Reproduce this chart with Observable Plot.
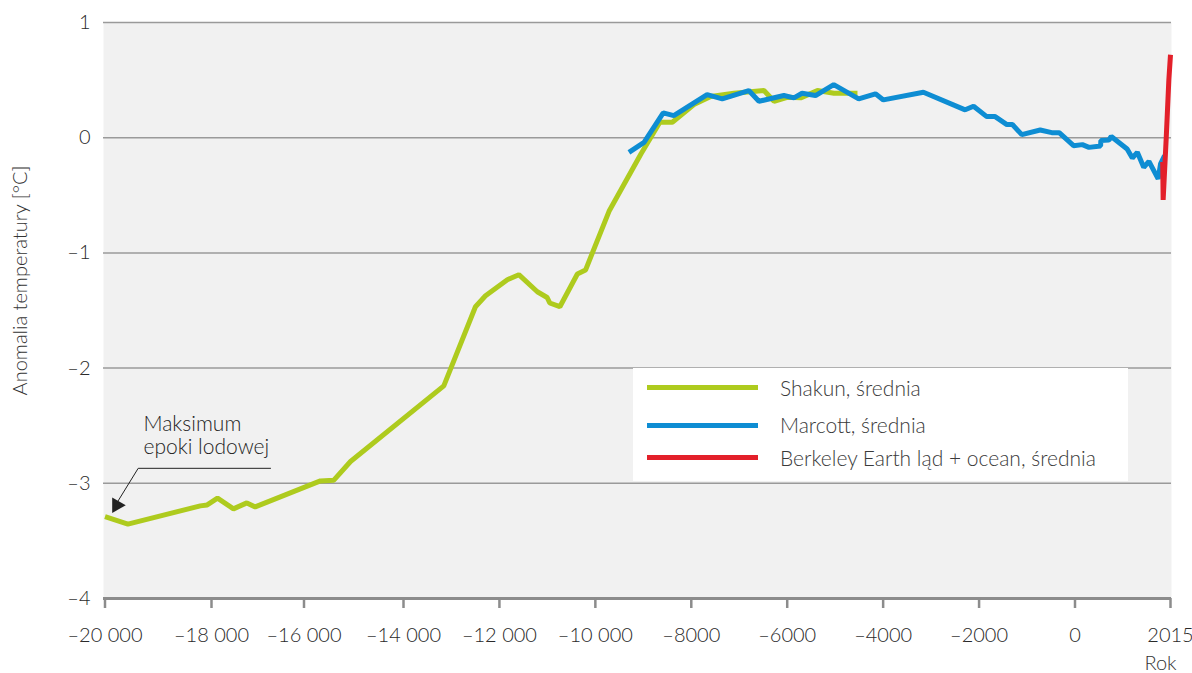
<!DOCTYPE html>
<html><head><meta charset="utf-8">
<script src="https://cdn.jsdelivr.net/npm/d3@7"></script>
<script src="https://cdn.jsdelivr.net/npm/@observablehq/plot@0.6"></script>
<style>
body{margin:0;background:#fff;font-family:Lato,sans-serif;}
#wrap{position:relative;width:1192px;height:673px;}
#legend{position:absolute;left:633px;top:368px;width:495px;height:113px;background:#fff;}
.row{position:absolute;left:0;height:0;width:100%;}
.sw{position:absolute;left:14px;width:111px;height:5px;top:-2.5px;}
.lab{position:absolute;left:147px;top:0;white-space:nowrap;font-size:21px;font-weight:300;color:#3a3a3a;transform:translateY(-52%);}
</style></head><body><div id="wrap"></div>
<script>
// Shakun, średnia
const shakunYears = [-20000,-19570,-18210,-18080,-17870,-17525,-17235,-17055,-15670,-15400,-15065,-13160,-12500,-12290,-11835,-11595,-11210,-11005,-10950,-10740,-10375,-10205,-9715,-9050,-8655,-8395,-7945,-7595,-7110,-6485,-6275,-6000,-5720,-5370,-5025,-4535];
const shakunValues = [-3.29,-3.355,-3.196,-3.188,-3.129,-3.222,-3.17,-3.205,-2.979,-2.973,-2.811,-2.154,-1.467,-1.372,-1.233,-1.189,-1.337,-1.387,-1.435,-1.467,-1.183,-1.149,-0.639,-0.141,0.134,0.134,0.288,0.357,0.386,0.409,0.316,0.351,0.346,0.409,0.386,0.386];
// Marcott, średnia
const marcottYears = [-9300,-8985,-8585,-8365,-7670,-7355,-6800,-6590,-6070,-5860,-5690,-5410,-5030,-4510,-4160,-3995,-3160,-2290,-2115,-1840,-1665,-1420,-1305,-1110,-725,-485,-330,-30,155,295,540,545,715,765,1100,1210,1315,1450,1560,1755,1805,1890];
const marcottValues = [-0.127,-0.04,0.215,0.192,0.374,0.337,0.409,0.316,0.366,0.346,0.386,0.366,0.461,0.337,0.381,0.328,0.394,0.242,0.273,0.183,0.183,0.114,0.114,0.027,0.067,0.044,0.044,-0.069,-0.06,-0.084,-0.072,-0.025,-0.02,0.011,-0.098,-0.176,-0.127,-0.257,-0.205,-0.358,-0.227,-0.155];
// Berkeley Earth ląd + ocean, średnia
const berkeleyYears = [1850,1860,1925,1980,2015];
const berkeleyValues = [-0.21,-0.54,0.0,0.5,0.72];

const xTicks = [-20000,-18000,-16000,-14000,-12000,-10000,-8000,-6000,-4000,-2000,0,2015];
const yTicks = [-4,-3,-2,-1,0,1];
const seriesNames = ["Shakun, średnia","Marcott, średnia","Berkeley Earth ląd + ocean, średnia"];
const seriesColors = ["#aecb1e","#0e8dd3","#e3202a"];
const yTitle = "Anomalia temperatury [°C]";
const xTitle = "Rok";
const annotationText = "Maksimum\nepoki lodowej";
// annotation anchor (data space): label, leader line, arrow head
const annotationLabel = [{year:-19277, value:-2.40}];
const annotationLeader = [{year:-16724, value:-2.87},{year:-19377, value:-2.87},{year:-19790, value:-3.18}];
const annotationHead = [{year:-19780, value:-3.19}];

const zip = (ys, vs) => ys.map((year,i)=>({year, value: vs[i]}));
const shakun = zip(shakunYears, shakunValues);
const marcott = zip(marcottYears, marcottValues);
const berkeley = zip(berkeleyYears, berkeleyValues);

const DASH = "\u2013", GAP = " ";
const fmtX = d => {
  const a = Math.abs(d);
  const s = a >= 10000 ? Math.floor(a / 1000) + GAP + String(a % 1000).padStart(3, "0") : String(a);
  return (d < 0 ? DASH : "") + s;
};
const fmtY = d => (d < 0 ? DASH : "") + Math.abs(d);

const chart = Plot.plot({
  width: 1192, height: 673,
  marginLeft: 103, marginRight: 21, marginTop: 22, marginBottom: 75,
  style: {fontFamily: "Lato, sans-serif", fontSize: "20px", fontWeight: 300, color: "#2a2a2a", background: "transparent", overflow: "visible"},
  x: {type: "linear", domain: [-20000,-18000,-16000,-14000,0,2015], range: [104.5,211,303.5,403,1074.5,1170]},
  y: {type: "linear", domain: [-4, 1]},
  marks: [
    Plot.frame({fill: "#f1f1f1", stroke: null}),
    Plot.ruleY(yTicks.filter(d => d > -4), {stroke: "#9a9a9a", strokeWidth: 1.5}),
    Plot.ruleY([-4], {stroke: "#8c8c8c", strokeWidth: 3}),
    Plot.axisX({ticks: xTicks, tickFormat: fmtX, tickSize: 10, tickPadding: 19, stroke: "#8c8c8c", strokeWidth: 2.5, label: null, fontSize: 20}),
    Plot.axisY({ticks: yTicks, tickFormat: fmtY, tickSize: 0, tickPadding: 13, label: null, fontSize: 20}),
    Plot.line(shakun, {x: "year", y: "value", stroke: seriesColors[0], strokeWidth: 5, strokeLinejoin: "miter", strokeLinecap: "butt"}),
    Plot.line(marcott, {x: "year", y: "value", stroke: seriesColors[1], strokeWidth: 5, strokeLinejoin: "miter", strokeLinecap: "butt"}),
    Plot.line(berkeley, {x: "year", y: "value", stroke: seriesColors[2], strokeWidth: 5, strokeLinejoin: "miter", strokeLinecap: "butt"}),
    Plot.line(annotationLeader, {x: "year", y: "value", stroke: "#222", strokeWidth: 1}),
    Plot.dot(annotationHead, {x: "year", y: "value", symbol: "triangle", r: 5.8, fill: "#222", stroke: null, rotate: 210}),
    Plot.text(annotationLabel, {x: "year", y: "value", text: () => annotationText, textAnchor: "start", lineAnchor: "top", lineHeight: 1.1, fontSize: 21, fontWeight: 300, fill: "#1e1e1e"}),
    Plot.text([yTitle], {text: d => d, frameAnchor: "left", rotate: -90, textAnchor: "middle", dx: -83, dy: -30, fontSize: 20, fill: "#333"}),
    Plot.text([xTitle], {text: d => d, frameAnchor: "bottom-right", textAnchor: "middle", dx: -11, dy: 71, fontSize: 20, fill: "#333"})
  ]
});
const wrap = document.getElementById("wrap");
wrap.appendChild(chart);

const legend = document.createElement("div");
legend.id = "legend";
const rowY = [19.7, 57, 89.7];
seriesNames.forEach((name, i) => {
  const row = document.createElement("div");
  row.className = "row";
  row.style.top = rowY[i] + "px";
  const sw = document.createElement("div");
  sw.className = "sw";
  sw.style.background = seriesColors[i];
  const lab = document.createElement("div");
  lab.className = "lab";
  lab.textContent = name;
  row.appendChild(sw); row.appendChild(lab);
  legend.appendChild(row);
});
wrap.appendChild(legend);
</script>
</body></html>
